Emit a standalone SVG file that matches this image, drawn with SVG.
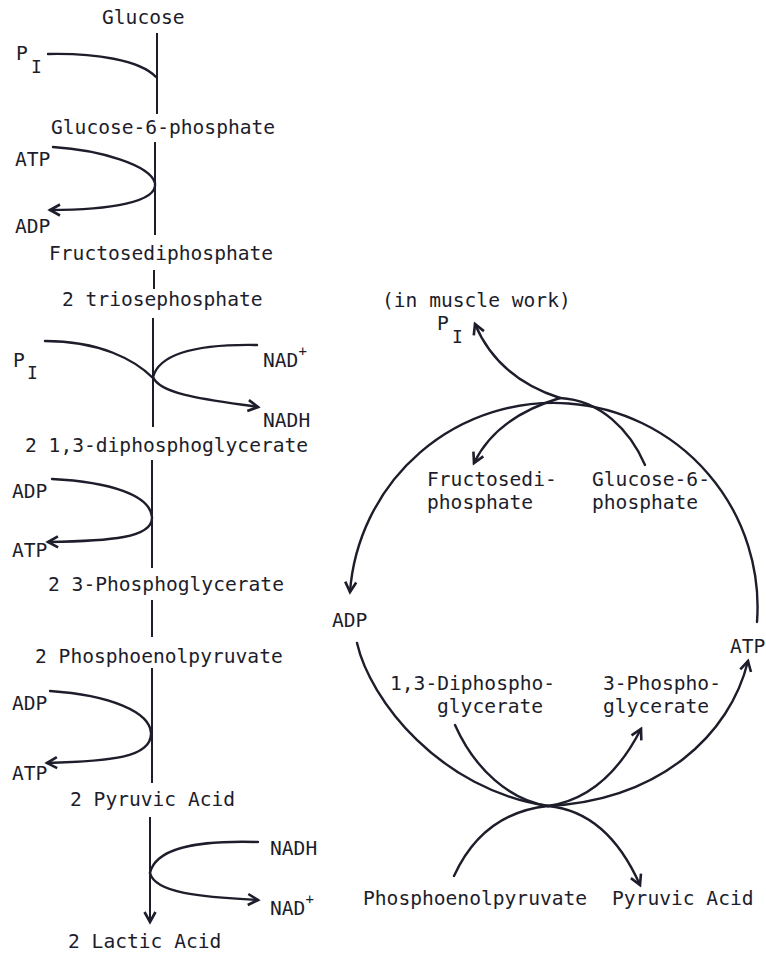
<svg xmlns="http://www.w3.org/2000/svg" width="766" height="955" viewBox="0 0 766 955">
<style>
text{font-family:"DejaVu Sans Mono","Liberation Mono",monospace;font-size:19.6px;fill:#1d1d2b}
.sub{font-size:18px}
.sup{font-size:14px}
.c{fill:none;stroke:#1d1d2b;stroke-width:2.4;stroke-linecap:round}
.v{fill:none;stroke:#1d1d2b;stroke-width:2}
.a{marker-end:url(#ah)}
</style>
<defs>
<marker id="ah" viewBox="0 0 14 14" refX="12" refY="7" markerWidth="14" markerHeight="14" markerUnits="userSpaceOnUse" orient="auto" overflow="visible">
<path d="M2,1.5 L12,7 L2,12.5" fill="none" stroke="#1d1d2b" stroke-width="2.6" stroke-linejoin="miter"/>
</marker>
</defs>
<rect width="766" height="955" fill="#ffffff"/>

<g id="left-nodes">
<g id="glucose"><text x="102" y="24">Glucose</text></g>
<g id="pi1"><text x="16" y="60">P<tspan class="sub" x="31" y="73">I</tspan></text></g>
<g id="g6p"><text x="51" y="134">Glucose-6-phosphate</text></g>
<g id="atp1"><text x="15" y="166">ATP</text></g>
<g id="adp1"><text x="15" y="233">ADP</text></g>
<g id="fdp"><text x="49" y="260">Fructosediphosphate</text></g>
<g id="triose"><text x="62" y="306">2 triosephosphate</text></g>
<g id="pi2"><text x="13" y="367">P<tspan class="sub" x="27" y="379">I</tspan></text></g>
<g id="nadp1"><text x="263" y="367">NAD<tspan class="sup" dy="-11">+</tspan></text></g>
<g id="nadh1"><text x="263" y="427">NADH</text></g>
<g id="dpg"><text x="25" y="452">2 1,3-diphosphoglycerate</text></g>
<g id="adp2"><text x="12" y="498">ADP</text></g>
<g id="atp2"><text x="12" y="557">ATP</text></g>
<g id="pg3"><text x="48" y="591">2 3-Phosphoglycerate</text></g>
<g id="pep"><text x="35" y="663">2 Phosphoenolpyruvate</text></g>
<g id="adp3"><text x="12" y="710">ADP</text></g>
<g id="atp3"><text x="12" y="780">ATP</text></g>
<g id="pyr"><text x="70" y="806">2 Pyruvic Acid</text></g>
<g id="nadh2"><text x="270" y="855">NADH</text></g>
<g id="nadp2"><text x="270" y="915">NAD<tspan class="sup" dy="-11">+</tspan></text></g>
<g id="lactic"><text x="68" y="948">2 Lactic Acid</text></g>
</g>

<g id="right-nodes">
<g id="muscle"><text x="382" y="307">(in muscle work)</text></g>
<g id="pi3"><text x="437" y="330">P<tspan class="sub" x="452" y="343">I</tspan></text></g>
<g id="r-fdp"><text x="427" y="486">Fructosedi-</text><text x="427" y="509">phosphate</text></g>
<g id="r-g6p"><text x="592" y="486">Glucose-6-</text><text x="592" y="509">phosphate</text></g>
<g id="r-adp"><text x="332" y="627">ADP</text></g>
<g id="r-atp"><text x="730" y="653">ATP</text></g>
<g id="r-dpg"><text x="390" y="690">1,3-Diphospho-</text><text x="437" y="713">glycerate</text></g>
<g id="r-pg3"><text x="603" y="690">3-Phospho-</text><text x="603" y="713">glycerate</text></g>
<g id="r-pep"><text x="363" y="905">Phosphoenolpyruvate</text></g>
<g id="r-pyr"><text x="612" y="905">Pyruvic Acid</text></g>
</g>

<g id="connectors">
<line class="v" x1="157" y1="33" x2="157" y2="114"/>
<line class="v" x1="155" y1="142" x2="155" y2="235"/>
<line class="v" x1="154" y1="270" x2="154" y2="289"/>
<line class="v" x1="153" y1="318" x2="153" y2="427"/>
<line class="v" x1="152" y1="460" x2="152" y2="568"/>
<line class="v" x1="152" y1="600" x2="152" y2="637"/>
<line class="v" x1="152" y1="668" x2="152" y2="783"/>
<line class="v a" x1="150" y1="817" x2="150" y2="922"/>
<path class="c" d="M48,54 C95,53 140,60 156,77"/>
<path class="c a" d="M53,147 C100,150 150,165 155,183 C158,202 110,210 50,210"/>
<path class="c" d="M45,341 C100,341 135,360 153,378"/>
<path class="c" d="M257,345 C200,344 160,352 153,377"/>
<path class="c a" d="M153,377 C160,395 210,400 258,407"/>
<path class="c a" d="M52,479 C110,482 150,495 152,517 C153,538 110,541 48,542"/>
<path class="c a" d="M50,691 C110,695 150,712 151,733 C152,758 110,761 47,763"/>
<path class="c" d="M258,842 C190,840 155,850 150,873"/>
<path class="c a" d="M150,873 C155,893 200,897 258,900"/>
<path class="c a" d="M757,622 A204,204 0 1 0 350,592"/>
<path class="c a" d="M357,643 C370,700 440,790 548,806 C660,800 730,735 748,661"/>
<path class="c a" d="M560,398 C520,385 490,360 475,324"/>
<path class="c a" d="M560,398 C520,410 490,430 474,463"/>
<path class="c" d="M645,465 C630,430 600,400 560,398"/>
<path class="c" d="M455,725 C475,770 510,800 548,806"/>
<path class="c a" d="M548,806 C590,800 620,770 641,729"/>
<path class="c" d="M454,876 C475,830 510,810 548,806"/>
<path class="c a" d="M548,806 C590,810 620,840 640,885"/>
</g>
</svg>
